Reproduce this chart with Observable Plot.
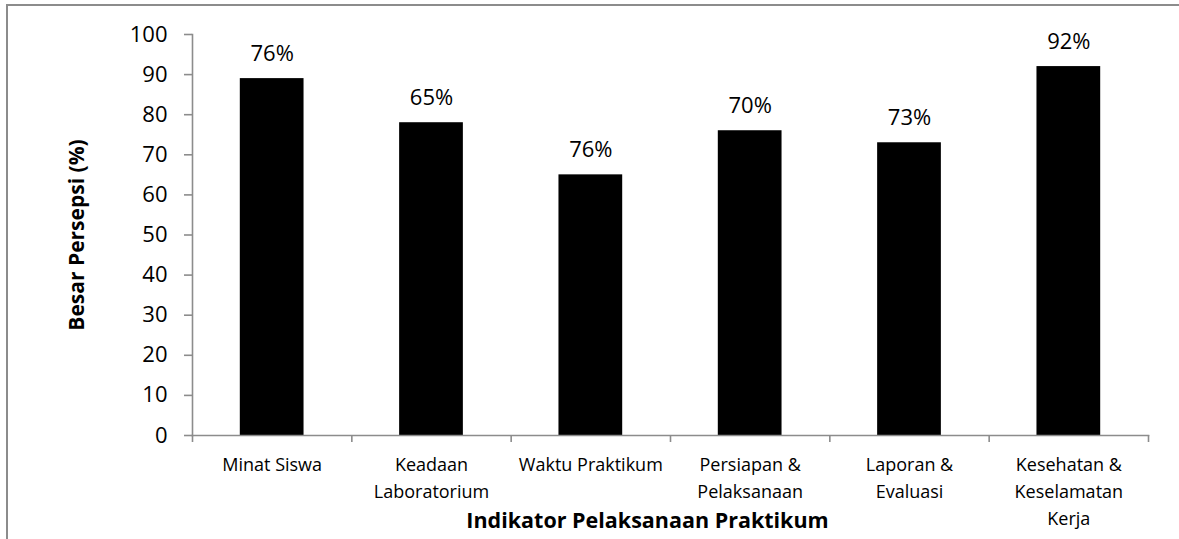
<!DOCTYPE html>
<html>
<head>
<meta charset="utf-8">
<script src="https://cdn.jsdelivr.net/npm/d3@7"></script>
<script src="https://cdn.jsdelivr.net/npm/@observablehq/plot@0.6"></script>
<style>
  html, body { margin: 0; padding: 0; background: #fff; }
  #wrap { position: relative; width: 1179px; height: 539px; overflow: hidden; }
  #border { position: absolute; left: 6px; top: 4px; width: 1300px; height: 700px;
            border-left: 2px solid #8c8c8c; border-top: 2px solid #8c8c8c; box-sizing: border-box; }
  #wrap svg { position: absolute; left: 0; top: 0; display: block; }
</style>
</head>
<body>
<div id="wrap"><div id="border"></div></div>
<script>
const categories = ["Minat Siswa", "Keadaan\nLaboratorium", "Waktu Praktikum", "Persiapan &\nPelaksanaan", "Laporan &\nEvaluasi", "Kesehatan &\nKeselamatan\nKerja"];
const values = [89, 78, 65, 76, 73, 92];
const valueLabels = ["76%", "65%", "76%", "70%", "73%", "92%"];
const yTicks = [0, 10, 20, 30, 40, 50, 60, 70, 80, 90, 100];
const yTitle = "Besar Persepsi (%)";
const xTitle = "Indikator Pelaksanaan Praktikum";

const data = categories.map((c, i) => ({i, c, v: values[i], lab: valueLabels[i]}));
const boundaries = d3.range(categories.length + 1);
const FONT = "'Open Sans', sans-serif";
const GRAY = "#8c8c8c";

const chart = Plot.plot({
  width: 1179,
  height: 539,
  marginLeft: 192,
  marginRight: 31,
  marginTop: 34,
  marginBottom: 104,
  style: {fontFamily: FONT, color: "#000", background: "transparent"},
  x: {domain: [0, categories.length], axis: null},
  y: {domain: [0, 100], axis: null},
  marks: [
    Plot.rectY(data, {x1: d => d.i + 0.3, x2: d => d.i + 0.7, y: "v", fill: "#000"}),
    Plot.frame({anchor: "left", stroke: GRAY, strokeWidth: 1.6}),
    Plot.frame({anchor: "bottom", stroke: GRAY, strokeWidth: 1.6}),
    Plot.axisY({ticks: yTicks, tickSize: 8, tickPadding: 17, stroke: GRAY, strokeWidth: 1.6,
                fontSize: 22, label: null, tickFormat: d => String(d), fill: "#000"}),
    Plot.axisX({ticks: boundaries, tickSize: 7, stroke: GRAY, strokeWidth: 1.6,
                tickFormat: () => "", label: null}),
    Plot.text(data, {x: d => d.i + 0.5, y: "v", text: "lab", fontSize: 22, fill: "#000",
                     lineAnchor: "bottom", dy: -18}),
    Plot.text(data, {x: d => d.i + 0.5, y: 0, text: "c", fontSize: 18, fill: "#000",
                     lineAnchor: "top", dy: 17, lineHeight: 1.48}),
    Plot.text([xTitle], {x: categories.length / 2, y: 0, text: d => d, fontSize: 21.5, fontWeight: "bold",
                         fill: "#000", lineAnchor: "top", dy: 77, dx: -23}),
    Plot.text([yTitle], {frameAnchor: "left", text: d => d, fontSize: 21, fontWeight: "bold", fill: "#000",
                         textAnchor: "middle", rotate: -90, dx: -115})
  ]
});
document.getElementById("wrap").appendChild(chart);
</script>
</body>
</html>
